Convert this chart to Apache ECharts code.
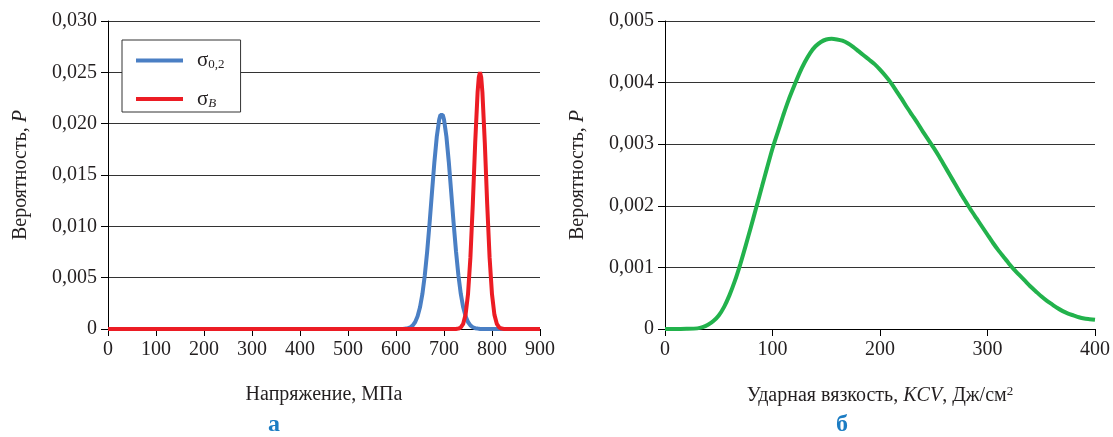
<!DOCTYPE html>
<html>
<head>
<meta charset="utf-8">
<script src="https://cdn.jsdelivr.net/npm/echarts@6/dist/echarts.min.js"></script>
<style>
html,body{margin:0;padding:0;background:#fff;}
#chart{width:1113px;height:437px;}
</style>
</head>
<body>
<div id="chart"></div>
<script>
// ---- data ----
const leftYTicks = ['0', '0,005', '0,010', '0,015', '0,020', '0,025', '0,030'];
const rightYTicks = ['0', '0,001', '0,002', '0,003', '0,004', '0,005'];

// σ0,2 — stress (MPa), probability
const yieldX = [0, 600, 615, 620, 625, 630, 635, 640, 645, 650, 655, 660, 665, 670, 675, 680, 685, 690, 692.5, 695, 697.5, 700, 705, 710, 715, 720, 725, 730, 735, 740, 745, 750, 755, 760, 765, 770, 775, 790, 900];
const yieldP = [0, 0, 0.00001, 0.00004, 0.00008, 0.00017, 0.00035, 0.00068, 0.00124, 0.00211, 0.00342, 0.00524, 0.00757, 0.01034, 0.01334, 0.01627, 0.01875, 0.0204, 0.02085, 0.021, 0.02085, 0.0204, 0.01875, 0.01627, 0.01334, 0.01034, 0.00757, 0.00524, 0.00342, 0.00211, 0.00124, 0.00068, 0.00035, 0.00017, 0.00008, 0.00004, 0.00001, 0, 0];

// σB — stress (MPa), probability
const tensileX = [0, 720, 725, 730, 735, 740, 745, 750, 755, 760, 765, 770, 772.5, 775, 777.5, 780, 785, 790, 795, 800, 805, 810, 815, 820, 825, 840, 900];
const tensileP = [0, 0, 0.00001, 0.00004, 0.00015, 0.0005, 0.0014, 0.00338, 0.00695, 0.01217, 0.01815, 0.02308, 0.02452, 0.025, 0.02452, 0.02308, 0.01815, 0.01217, 0.00695, 0.00338, 0.0014, 0.0005, 0.00015, 0.00004, 0.00001, 0, 0];

// KCV — impact toughness (J/cm2), probability
const kcvX = [0, 10, 20, 30, 35, 40, 45, 50, 55, 60, 65, 70, 75, 80, 85, 90, 95, 100, 105, 110, 115, 120, 125, 130, 135, 140, 145, 150, 155, 160, 165, 170, 175, 180, 185, 190, 195, 200, 205, 210, 215, 220, 225, 230, 235, 240, 245, 250, 255, 260, 265, 270, 275, 280, 285, 290, 295, 300, 305, 310, 315, 320, 325, 330, 335, 340, 345, 350, 355, 360, 365, 370, 375, 380, 385, 390, 395, 400];
const kcvP = [0, 0, 0.000003, 0.00001, 0.00003, 0.00007, 0.00013, 0.00022, 0.00036, 0.00055, 0.00078, 0.00105, 0.00135, 0.00166, 0.00198, 0.0023, 0.00262, 0.00293, 0.0032, 0.00347, 0.00372, 0.00394, 0.00415, 0.00433, 0.00448, 0.00459, 0.00466, 0.0047, 0.00471, 0.0047, 0.00468, 0.00464, 0.00458, 0.00451, 0.00444, 0.00437, 0.0043, 0.00421, 0.00411, 0.004, 0.00387, 0.00374, 0.0036, 0.00347, 0.00334, 0.0032, 0.00307, 0.00294, 0.0028, 0.00265, 0.0025, 0.00235, 0.0022, 0.00206, 0.00192, 0.00179, 0.00166, 0.00153, 0.0014, 0.00128, 0.00117, 0.00106, 0.00096, 0.00087, 0.00078, 0.00069, 0.00061, 0.00053, 0.00046, 0.0004, 0.00034, 0.00029, 0.00025, 0.00022, 0.00019, 0.00017, 0.00016, 0.00015];

const pairs = (xs, ys) => xs.map((x, i) => [x, ys[i]]);

// ---- styles ----
const FONT = 'Liberation Serif';
const TXT = '#231f20';
const tickFont = 20;
const nameFont = 20;

const nameRich = {
  n: {fontFamily: FONT, fontSize: nameFont, color: TXT},
  i: {fontFamily: FONT, fontSize: nameFont, color: TXT, fontStyle: 'italic'},
  sup: {fontFamily: FONT, fontSize: 13, color: TXT, padding: [0, 0, 9, 0]}
};

function yAxis(gridIndex, max, interval, labels) {
  return {
    type: 'value', gridIndex, min: 0, max, interval,
    axisLine: {show: true, lineStyle: {color: '#000', width: 1}},
    axisTick: {show: true, length: 7, lineStyle: {color: '#000'}},
    splitLine: {show: true, lineStyle: {color: '#333', width: 1}},
    axisLabel: {
      margin: 11, fontFamily: FONT, fontSize: tickFont, color: TXT,
      formatter: (v) => labels[Math.round(v / interval)]
    },
    name: '{n|Вероятность, }{i|P}',
    nameLocation: 'middle', nameGap: 77,
    nameTextStyle: {fontFamily: FONT, fontSize: nameFont, color: TXT, rich: nameRich}
  };
}

function xAxis(gridIndex, max, name) {
  return {
    type: 'value', gridIndex, min: 0, max, interval: 100,
    axisLine: {show: true, onZero: false, lineStyle: {color: '#000', width: 1}},
    axisTick: {show: true, length: 7, lineStyle: {color: '#000'}},
    splitLine: {show: false},
    axisLabel: {margin: 11, fontFamily: FONT, fontSize: tickFont, color: TXT},
    name, nameLocation: 'middle', nameGap: 56,
    nameTextStyle: {fontFamily: FONT, fontSize: nameFont, color: TXT, rich: nameRich}
  };
}

const chart = echarts.init(document.getElementById('chart'), null, {renderer: 'canvas'});
chart.setOption({
  animation: false,
  backgroundColor: '#fff',
  grid: [
    {left: 108, right: 573, top: 21, bottom: 108},
    {left: 665, right: 17, top: 21, bottom: 108}
  ],
  xAxis: [
    xAxis(0, 900, '{n|Напряжение, МПа}'),
    xAxis(1, 400, '{n|Ударная вязкость, }{i|KCV}{n|, Дж/см}{sup|2}')
  ],
  yAxis: [
    yAxis(0, 0.03, 0.005, leftYTicks),
    yAxis(1, 0.005, 0.001, rightYTicks)
  ],
  legend: {
    orient: 'vertical', left: 122, top: 40,
    backgroundColor: '#fff', borderColor: '#333', borderWidth: 1,
    padding: [10, 16, 2, 14],
    itemWidth: 47, itemHeight: 4, itemGap: 17, icon: 'rect',
    data: ['s02', 'sB'],
    formatter: n => n === 's02' ? '{g|σ}{sub|0,2}' : '{g|σ}{subi|B}',
    textStyle: {
      padding: [0, 0, 0, 9],
      rich: {
        g: {fontFamily: FONT, fontSize: 21, color: TXT, lineHeight: 22},
        sub: {fontFamily: FONT, fontSize: 13, color: TXT, padding: [9, 0, 0, 0]},
        subi: {fontFamily: FONT, fontSize: 13, color: TXT, fontStyle: 'italic', padding: [9, 0, 0, 0]}
      }
    }
  },
  series: [
    {name: 's02', type: 'line', xAxisIndex: 0, yAxisIndex: 0, data: pairs(yieldX, yieldP),
      showSymbol: false, lineStyle: {color: '#4a7fc4', width: 4}, itemStyle: {color: '#4a7fc4'}, clip: true},
    {name: 'sB', type: 'line', xAxisIndex: 0, yAxisIndex: 0, data: pairs(tensileX, tensileP),
      showSymbol: false, lineStyle: {color: '#ec1c24', width: 4}, itemStyle: {color: '#ec1c24'}, clip: true},
    {name: 'kcv', type: 'line', xAxisIndex: 1, yAxisIndex: 1, data: pairs(kcvX, kcvP),
      showSymbol: false, smooth: 0.2, lineStyle: {color: '#22b24c', width: 4}, itemStyle: {color: '#22b24c'}, clip: true}
  ],
  graphic: [
    {type: 'text', left: 268, top: 413, style: {text: 'а', font: 'bold 24px "Liberation Serif"', fill: '#1b7cc3'}},
    {type: 'text', left: 836, top: 413, style: {text: 'б', font: 'bold 24px "Liberation Serif"', fill: '#1b7cc3'}}
  ]
});
</script>
</body>
</html>
